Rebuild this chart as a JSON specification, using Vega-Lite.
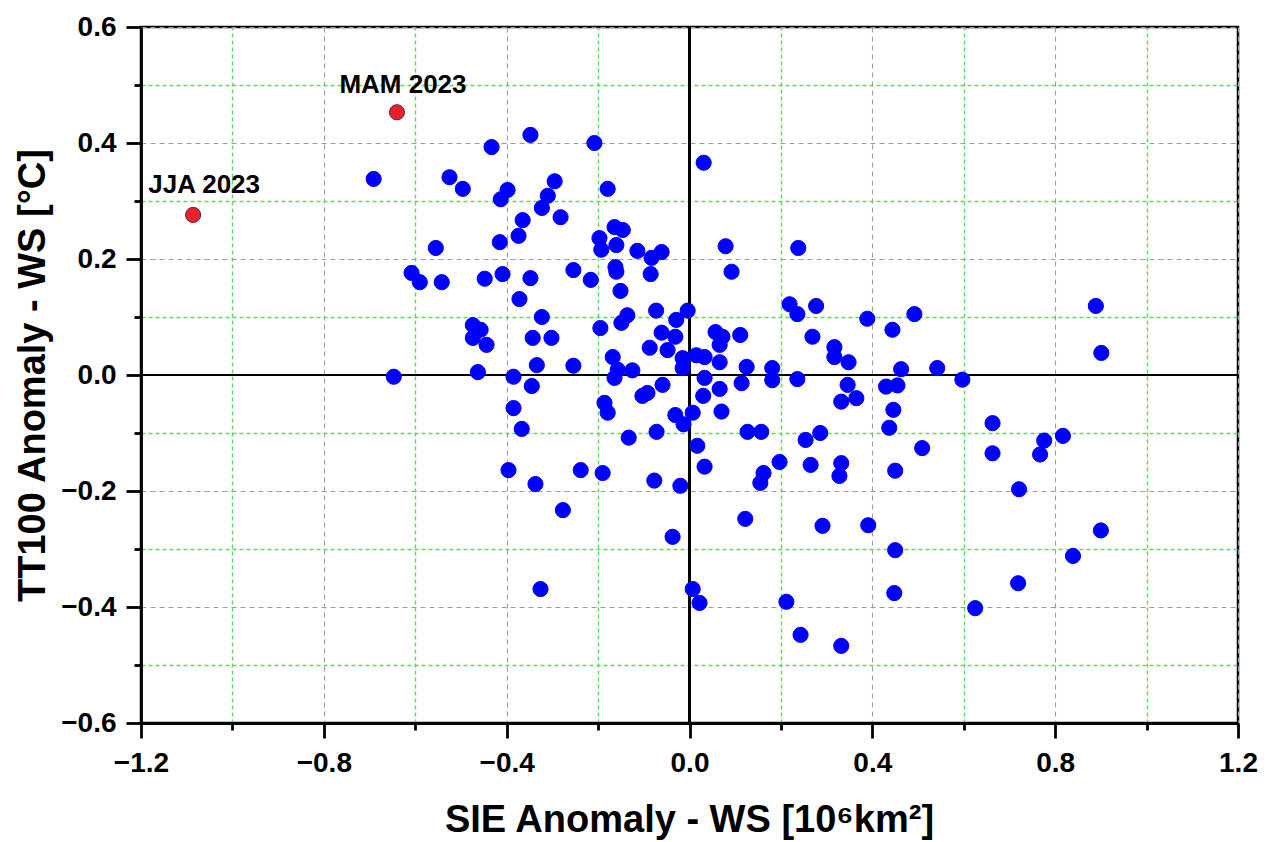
{
  "$schema": "https://vega.github.io/schema/vega-lite/v6.json",
  "autosize": {"type": "none"},
  "padding": {"left": 141, "top": 27, "right": 32, "bottom": 119},
  "width": 1097,
  "height": 696,
  "background": "white",
  "config": {
    "view": {"stroke": "black", "strokeWidth": 2.5},
    "font": "Liberation Sans"
  },
  "resolve": {"axis": {"x": "independent", "y": "independent"}},
  "data": {
    "values": [
      {"sie": -1.086, "tt": 0.276, "kind": "2023", "label": "JJA 2023"},
      {"sie": -0.640, "tt": 0.453, "kind": "2023", "label": "MAM 2023"},
      {"sie": -0.691, "tt": 0.338, "kind": "other", "label": ""},
      {"sie": -0.525, "tt": 0.341, "kind": "other", "label": ""},
      {"sie": -0.496, "tt": 0.321, "kind": "other", "label": ""},
      {"sie": -0.433, "tt": 0.393, "kind": "other", "label": ""},
      {"sie": -0.348, "tt": 0.414, "kind": "other", "label": ""},
      {"sie": -0.208, "tt": 0.400, "kind": "other", "label": ""},
      {"sie": 0.031, "tt": 0.366, "kind": "other", "label": ""},
      {"sie": -0.398, "tt": 0.319, "kind": "other", "label": ""},
      {"sie": -0.413, "tt": 0.303, "kind": "other", "label": ""},
      {"sie": -0.295, "tt": 0.334, "kind": "other", "label": ""},
      {"sie": -0.310, "tt": 0.309, "kind": "other", "label": ""},
      {"sie": -0.323, "tt": 0.288, "kind": "other", "label": ""},
      {"sie": -0.179, "tt": 0.321, "kind": "other", "label": ""},
      {"sie": -0.282, "tt": 0.272, "kind": "other", "label": ""},
      {"sie": -0.365, "tt": 0.267, "kind": "other", "label": ""},
      {"sie": -0.374, "tt": 0.240, "kind": "other", "label": ""},
      {"sie": -0.415, "tt": 0.229, "kind": "other", "label": ""},
      {"sie": -0.555, "tt": 0.219, "kind": "other", "label": ""},
      {"sie": -0.164, "tt": 0.255, "kind": "other", "label": ""},
      {"sie": -0.146, "tt": 0.250, "kind": "other", "label": ""},
      {"sie": -0.197, "tt": 0.236, "kind": "other", "label": ""},
      {"sie": -0.193, "tt": 0.216, "kind": "other", "label": ""},
      {"sie": -0.160, "tt": 0.224, "kind": "other", "label": ""},
      {"sie": -0.114, "tt": 0.214, "kind": "other", "label": ""},
      {"sie": -0.061, "tt": 0.212, "kind": "other", "label": ""},
      {"sie": -0.083, "tt": 0.202, "kind": "other", "label": ""},
      {"sie": 0.079, "tt": 0.222, "kind": "other", "label": ""},
      {"sie": -0.608, "tt": 0.176, "kind": "other", "label": ""},
      {"sie": -0.590, "tt": 0.160, "kind": "other", "label": ""},
      {"sie": -0.542, "tt": 0.160, "kind": "other", "label": ""},
      {"sie": -0.448, "tt": 0.166, "kind": "other", "label": ""},
      {"sie": -0.409, "tt": 0.174, "kind": "other", "label": ""},
      {"sie": -0.348, "tt": 0.167, "kind": "other", "label": ""},
      {"sie": -0.254, "tt": 0.181, "kind": "other", "label": ""},
      {"sie": -0.216, "tt": 0.164, "kind": "other", "label": ""},
      {"sie": -0.162, "tt": 0.186, "kind": "other", "label": ""},
      {"sie": -0.160, "tt": 0.178, "kind": "other", "label": ""},
      {"sie": -0.085, "tt": 0.174, "kind": "other", "label": ""},
      {"sie": 0.092, "tt": 0.178, "kind": "other", "label": ""},
      {"sie": -0.372, "tt": 0.131, "kind": "other", "label": ""},
      {"sie": -0.151, "tt": 0.145, "kind": "other", "label": ""},
      {"sie": -0.073, "tt": 0.111, "kind": "other", "label": ""},
      {"sie": -0.004, "tt": 0.111, "kind": "other", "label": ""},
      {"sie": -0.323, "tt": 0.100, "kind": "other", "label": ""},
      {"sie": -0.136, "tt": 0.103, "kind": "other", "label": ""},
      {"sie": -0.149, "tt": 0.090, "kind": "other", "label": ""},
      {"sie": -0.029, "tt": 0.095, "kind": "other", "label": ""},
      {"sie": -0.474, "tt": 0.086, "kind": "other", "label": ""},
      {"sie": -0.457, "tt": 0.078, "kind": "other", "label": ""},
      {"sie": -0.474, "tt": 0.064, "kind": "other", "label": ""},
      {"sie": -0.444, "tt": 0.052, "kind": "other", "label": ""},
      {"sie": -0.343, "tt": 0.064, "kind": "other", "label": ""},
      {"sie": -0.302, "tt": 0.064, "kind": "other", "label": ""},
      {"sie": -0.195, "tt": 0.081, "kind": "other", "label": ""},
      {"sie": -0.061, "tt": 0.073, "kind": "other", "label": ""},
      {"sie": -0.031, "tt": 0.066, "kind": "other", "label": ""},
      {"sie": 0.057, "tt": 0.074, "kind": "other", "label": ""},
      {"sie": 0.072, "tt": 0.066, "kind": "other", "label": ""},
      {"sie": 0.111, "tt": 0.069, "kind": "other", "label": ""},
      {"sie": -0.087, "tt": 0.047, "kind": "other", "label": ""},
      {"sie": -0.048, "tt": 0.043, "kind": "other", "label": ""},
      {"sie": 0.066, "tt": 0.052, "kind": "other", "label": ""},
      {"sie": -0.168, "tt": 0.031, "kind": "other", "label": ""},
      {"sie": -0.015, "tt": 0.029, "kind": "other", "label": ""},
      {"sie": 0.015, "tt": 0.034, "kind": "other", "label": ""},
      {"sie": 0.033, "tt": 0.031, "kind": "other", "label": ""},
      {"sie": 0.066, "tt": 0.022, "kind": "other", "label": ""},
      {"sie": -0.157, "tt": 0.009, "kind": "other", "label": ""},
      {"sie": -0.125, "tt": 0.008, "kind": "other", "label": ""},
      {"sie": -0.015, "tt": 0.012, "kind": "other", "label": ""},
      {"sie": -0.164, "tt": -0.005, "kind": "other", "label": ""},
      {"sie": 0.125, "tt": 0.014, "kind": "other", "label": ""},
      {"sie": 0.181, "tt": 0.012, "kind": "other", "label": ""},
      {"sie": 0.181, "tt": -0.009, "kind": "other", "label": ""},
      {"sie": 0.114, "tt": -0.014, "kind": "other", "label": ""},
      {"sie": 0.033, "tt": -0.005, "kind": "other", "label": ""},
      {"sie": 0.066, "tt": -0.024, "kind": "other", "label": ""},
      {"sie": 0.030, "tt": -0.036, "kind": "other", "label": ""},
      {"sie": -0.059, "tt": -0.017, "kind": "other", "label": ""},
      {"sie": -0.092, "tt": -0.031, "kind": "other", "label": ""},
      {"sie": -0.103, "tt": -0.036, "kind": "other", "label": ""},
      {"sie": -0.186, "tt": -0.048, "kind": "other", "label": ""},
      {"sie": -0.179, "tt": -0.065, "kind": "other", "label": ""},
      {"sie": -0.031, "tt": -0.069, "kind": "other", "label": ""},
      {"sie": -0.013, "tt": -0.085, "kind": "other", "label": ""},
      {"sie": 0.007, "tt": -0.065, "kind": "other", "label": ""},
      {"sie": 0.070, "tt": -0.063, "kind": "other", "label": ""},
      {"sie": -0.072, "tt": -0.098, "kind": "other", "label": ""},
      {"sie": -0.133, "tt": -0.108, "kind": "other", "label": ""},
      {"sie": 0.127, "tt": -0.098, "kind": "other", "label": ""},
      {"sie": 0.157, "tt": -0.098, "kind": "other", "label": ""},
      {"sie": 0.219, "tt": 0.122, "kind": "other", "label": ""},
      {"sie": 0.236, "tt": 0.105, "kind": "other", "label": ""},
      {"sie": 0.238, "tt": 0.219, "kind": "other", "label": ""},
      {"sie": 0.277, "tt": 0.119, "kind": "other", "label": ""},
      {"sie": 0.389, "tt": 0.097, "kind": "other", "label": ""},
      {"sie": 0.492, "tt": 0.105, "kind": "other", "label": ""},
      {"sie": 0.444, "tt": 0.078, "kind": "other", "label": ""},
      {"sie": 0.269, "tt": 0.066, "kind": "other", "label": ""},
      {"sie": 0.317, "tt": 0.048, "kind": "other", "label": ""},
      {"sie": 0.317, "tt": 0.031, "kind": "other", "label": ""},
      {"sie": 0.348, "tt": 0.022, "kind": "other", "label": ""},
      {"sie": 0.463, "tt": 0.010, "kind": "other", "label": ""},
      {"sie": 0.542, "tt": 0.012, "kind": "other", "label": ""},
      {"sie": 0.597, "tt": -0.008, "kind": "other", "label": ""},
      {"sie": 0.236, "tt": -0.007, "kind": "other", "label": ""},
      {"sie": 0.346, "tt": -0.017, "kind": "other", "label": ""},
      {"sie": 0.430, "tt": -0.020, "kind": "other", "label": ""},
      {"sie": 0.455, "tt": -0.018, "kind": "other", "label": ""},
      {"sie": 0.332, "tt": -0.046, "kind": "other", "label": ""},
      {"sie": 0.365, "tt": -0.040, "kind": "other", "label": ""},
      {"sie": 0.446, "tt": -0.060, "kind": "other", "label": ""},
      {"sie": 0.437, "tt": -0.091, "kind": "other", "label": ""},
      {"sie": 0.509, "tt": -0.126, "kind": "other", "label": ""},
      {"sie": 0.450, "tt": -0.165, "kind": "other", "label": ""},
      {"sie": 0.663, "tt": -0.083, "kind": "other", "label": ""},
      {"sie": 0.663, "tt": -0.135, "kind": "other", "label": ""},
      {"sie": 0.254, "tt": -0.112, "kind": "other", "label": ""},
      {"sie": 0.286, "tt": -0.100, "kind": "other", "label": ""},
      {"sie": 0.197, "tt": -0.150, "kind": "other", "label": ""},
      {"sie": 0.162, "tt": -0.169, "kind": "other", "label": ""},
      {"sie": 0.155, "tt": -0.186, "kind": "other", "label": ""},
      {"sie": 0.265, "tt": -0.155, "kind": "other", "label": ""},
      {"sie": 0.332, "tt": -0.152, "kind": "other", "label": ""},
      {"sie": 0.328, "tt": -0.174, "kind": "other", "label": ""},
      {"sie": 0.033, "tt": -0.158, "kind": "other", "label": ""},
      {"sie": 0.017, "tt": -0.122, "kind": "other", "label": ""},
      {"sie": 0.122, "tt": -0.248, "kind": "other", "label": ""},
      {"sie": 0.291, "tt": -0.260, "kind": "other", "label": ""},
      {"sie": 0.391, "tt": -0.259, "kind": "other", "label": ""},
      {"sie": 0.450, "tt": -0.302, "kind": "other", "label": ""},
      {"sie": 0.448, "tt": -0.376, "kind": "other", "label": ""},
      {"sie": 0.625, "tt": -0.402, "kind": "other", "label": ""},
      {"sie": 0.212, "tt": -0.391, "kind": "other", "label": ""},
      {"sie": 0.243, "tt": -0.448, "kind": "other", "label": ""},
      {"sie": 0.332, "tt": -0.467, "kind": "other", "label": ""},
      {"sie": 0.022, "tt": -0.393, "kind": "other", "label": ""},
      {"sie": 0.007, "tt": -0.369, "kind": "other", "label": ""},
      {"sie": 0.889, "tt": 0.119, "kind": "other", "label": ""},
      {"sie": 0.901, "tt": 0.038, "kind": "other", "label": ""},
      {"sie": 0.776, "tt": -0.113, "kind": "other", "label": ""},
      {"sie": 0.767, "tt": -0.137, "kind": "other", "label": ""},
      {"sie": 0.817, "tt": -0.105, "kind": "other", "label": ""},
      {"sie": 0.721, "tt": -0.197, "kind": "other", "label": ""},
      {"sie": 0.900, "tt": -0.268, "kind": "other", "label": ""},
      {"sie": 0.839, "tt": -0.312, "kind": "other", "label": ""},
      {"sie": 0.719, "tt": -0.359, "kind": "other", "label": ""},
      {"sie": -0.647, "tt": -0.003, "kind": "other", "label": ""},
      {"sie": -0.463, "tt": 0.005, "kind": "other", "label": ""},
      {"sie": -0.385, "tt": -0.003, "kind": "other", "label": ""},
      {"sie": -0.345, "tt": -0.019, "kind": "other", "label": ""},
      {"sie": -0.334, "tt": 0.017, "kind": "other", "label": ""},
      {"sie": -0.254, "tt": 0.016, "kind": "other", "label": ""},
      {"sie": -0.385, "tt": -0.057, "kind": "other", "label": ""},
      {"sie": -0.367, "tt": -0.093, "kind": "other", "label": ""},
      {"sie": -0.396, "tt": -0.164, "kind": "other", "label": ""},
      {"sie": -0.337, "tt": -0.188, "kind": "other", "label": ""},
      {"sie": -0.238, "tt": -0.164, "kind": "other", "label": ""},
      {"sie": -0.190, "tt": -0.169, "kind": "other", "label": ""},
      {"sie": -0.277, "tt": -0.233, "kind": "other", "label": ""},
      {"sie": -0.326, "tt": -0.369, "kind": "other", "label": ""},
      {"sie": -0.077, "tt": -0.182, "kind": "other", "label": ""},
      {"sie": -0.020, "tt": -0.191, "kind": "other", "label": ""},
      {"sie": -0.037, "tt": -0.279, "kind": "other", "label": ""}
    ]
  },
  "layer": [
    {
      "mark": {"type": "rule", "color": "black", "strokeWidth": 2.2},
      "encoding": {
        "x": {
          "datum": 0, "type": "quantitative",
          "scale": {"domain": [-1.2, 1.2], "nice": false, "zero": false},
          "axis": {
            "orient": "bottom", "title": null,
            "values": [-1.0, -0.6, -0.2, 0.2, 0.6, 1.0],
            "labels": false, "domain": false,
            "tickSize": 7, "tickWidth": 2.8, "tickColor": "black",
            "grid": true, "gridColor": "#5fd85f", "gridDash": [4, 3], "gridWidth": 1.4
          }
        }
      }
    },
    {
      "mark": {"type": "rule", "color": "black", "strokeWidth": 2.2},
      "encoding": {
        "y": {
          "datum": 0, "type": "quantitative",
          "scale": {"domain": [-0.6, 0.6], "nice": false, "zero": false},
          "axis": {
            "orient": "left", "title": null,
            "values": [-0.5, -0.3, -0.1, 0.1, 0.3, 0.5],
            "labels": false, "domain": false,
            "tickSize": 7, "tickWidth": 2.8, "tickColor": "black",
            "grid": true, "gridColor": "#5fd85f", "gridDash": [4, 3], "gridWidth": 1.4
          }
        }
      }
    },
    {
      "mark": {"type": "point", "filled": true, "size": 230, "shape": "circle", "opacity": 1},
      "encoding": {
        "x": {
          "field": "sie",
          "type": "quantitative",
          "scale": {"domain": [-1.2, 1.2], "nice": false, "zero": false},
          "axis": {
            "orient": "bottom",
            "title": "SIE Anomaly - WS [10⁶km²]",
            "values": [-1.2, -0.8, -0.4, 0, 0.4, 0.8, 1.2],
            "format": ".1f",
            "labelFlush": false,
            "labelOverlap": false,
            "labelFont": "Liberation Sans",
            "labelFontWeight": "bold",
            "labelFontSize": 28,
            "labelColor": "black",
            "labelPadding": 11,
            "grid": true,
            "gridColor": "#9c9c9c",
            "gridDash": [5, 4],
            "gridWidth": 1.1,
            "domainColor": "black",
            "domainWidth": 2.8,
            "tickColor": "black",
            "tickWidth": 2.8,
            "tickSize": 15,
            "titleFont": "Liberation Sans",
            "titleFontWeight": "bold",
            "titleFontSize": 38,
            "titleColor": "black",
            "titleBaseline": "middle",
            "titleX": 548,
            "titleY": 97
          }
        },
        "y": {
          "field": "tt",
          "type": "quantitative",
          "scale": {"domain": [-0.6, 0.6], "nice": false, "zero": false},
          "axis": {
            "orient": "left",
            "title": "TT100 Anomaly - WS [°C]",
            "values": [-0.6, -0.4, -0.2, 0, 0.2, 0.4, 0.6],
            "format": ".1f",
            "labelFlush": false,
            "labelOverlap": false,
            "labelFont": "Liberation Sans",
            "labelFontWeight": "bold",
            "labelFontSize": 28,
            "labelColor": "black",
            "labelPadding": 10,
            "grid": true,
            "gridColor": "#9c9c9c",
            "gridDash": [5, 4],
            "gridWidth": 1.1,
            "domainColor": "black",
            "domainWidth": 2.8,
            "tickColor": "black",
            "tickWidth": 2.8,
            "tickSize": 15,
            "titleFont": "Liberation Sans",
            "titleFontWeight": "bold",
            "titleFontSize": 38,
            "titleColor": "black",
            "titleBaseline": "middle",
            "titleAngle": -90,
            "titleX": -108,
            "titleY": 348
          }
        },
        "color": {
          "field": "kind",
          "type": "nominal",
          "scale": {"domain": ["other", "2023"], "range": ["#0000ff", "#e8202a"]},
          "legend": null
        },
        "stroke": {
          "field": "kind",
          "type": "nominal",
          "scale": {"domain": ["other", "2023"], "range": ["#0000ff", "#6a1f4f"]},
          "legend": null
        },
        "strokeWidth": {"value": 1},
        "order": {"field": "kind", "sort": "descending"}
      }
    },
    {
      "transform": [{"filter": "datum.label == 'MAM 2023'"}],
      "mark": {"type": "text", "font": "Liberation Sans", "fontWeight": "bold", "fontSize": 26, "align": "center", "baseline": "alphabetic", "dx": 6, "dy": -19, "color": "black"},
      "encoding": {
        "x": {"field": "sie", "type": "quantitative", "axis": null},
        "y": {"field": "tt", "type": "quantitative", "axis": null},
        "text": {"field": "label"}
      }
    },
    {
      "transform": [{"filter": "datum.label == 'JJA 2023'"}],
      "mark": {"type": "text", "font": "Liberation Sans", "fontWeight": "bold", "fontSize": 26, "align": "center", "baseline": "alphabetic", "dx": 11, "dy": -22, "color": "black"},
      "encoding": {
        "x": {"field": "sie", "type": "quantitative", "axis": null},
        "y": {"field": "tt", "type": "quantitative", "axis": null},
        "text": {"field": "label"}
      }
    }
  ]
}
